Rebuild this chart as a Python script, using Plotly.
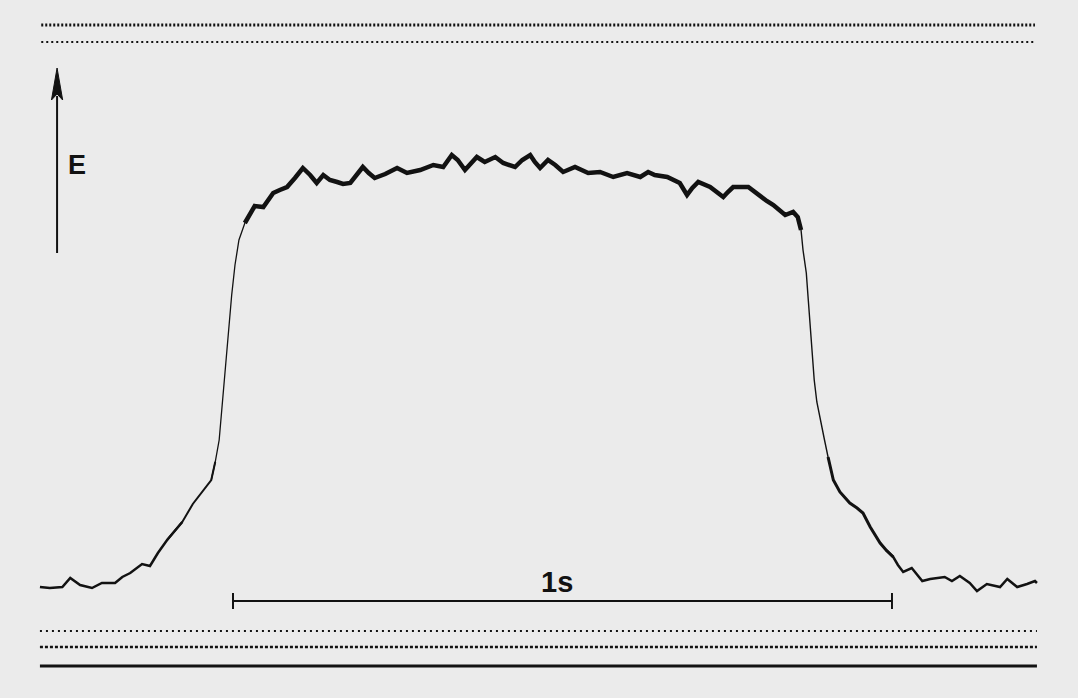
import plotly.graph_objects as go

# Recorded trace: time (ms) and deflection E (arbitrary units, baseline = 0)
t_ms = [-293, -278, -259, -247, -232, -214, -199, -179, -168, -156, -138, -126, -114, -100,
        -77, -61, -42, -33, -27, -21, -17, -14, -9, -5, -2, 3, 9, 18, 26, 33, 46, 53, 61, 71,
        82, 94, 106, 117, 127, 137, 147, 158, 167, 178, 187, 197, 206, 215, 231, 249, 264,
        284, 304, 319, 332, 341, 352, 361, 370, 382, 398, 410, 419, 428, 439, 451, 458, 466,
        478, 489, 501, 519, 539, 557, 577, 598, 618, 630, 640, 659, 678, 689, 697, 706, 724,
        744, 751, 759, 782, 792, 800, 810, 820, 829, 838, 850, 857, 862, 865, 870, 873, 876,
        879, 882, 886, 891, 897, 903, 911, 921, 936, 947, 956, 967, 982, 991, 1002, 1009,
        1017, 1030, 1038, 1046, 1058, 1080, 1091, 1103, 1118, 1129, 1144, 1164, 1175, 1190,
        1205, 1217, 1220]
E_val = [0.25, 0, 0.25, 2.5, 0.75, 0, 1.25, 1.25, 2.75, 3.75, 6, 5.5, 8.75, 12,
         16.5, 21, 25, 27, 31.5, 37, 44.5, 51.25, 59.5, 68.25, 73.25, 80.75, 87, 91.25, 93.75,
         95.5, 95.25, 97, 98.75, 99.5, 100.25, 102.5, 105, 103.25, 101.25, 103.25, 102, 101.5,
         101, 101.25, 103.25, 105.25, 103.75, 102.5, 103.5, 105, 103.75, 104.5, 105.75, 105.25,
         108.25, 107, 104.5, 106, 107.75, 106.5, 107.75, 106.25, 105.75, 105.25, 107, 108.25,
         106.5, 105, 107, 105.75, 104, 105.25, 103.75, 104, 102.75, 103.75, 102.75, 104,
         103.25, 102.75, 101.25, 98.25, 100, 101.5, 100.25, 97.75, 99, 100.25, 100.25, 99,
         97.75, 96.75, 95.75, 94.5, 93.25, 94, 92.75, 89.5, 84.5, 78.75, 72, 64.5, 58.5, 52,
         46.5, 42, 37.5, 32.75, 27, 24, 21.25, 20, 18.75, 15.25, 11.25, 9.5, 7.75, 5.75, 4,
         5, 3.25, 1.75, 2.25, 2.75, 1.75, 3, 1.25, -0.75, 1, 0.25, 2.25, 0.25, 1, 1.75, 1.25]

# Scale bar (1 s)
scale_t = [0, 1000]
scale_label = "1s"
axis_label = "E"

# Timing / reference rows (E level, start, end)
row_start, row_end = -293, 1220
top_rows_E = [140.75, 136.5]
bottom_rows_E = [-10.75, -14.75]
base_line_E = -19.5
scale_bar_E = -3.25

INK = "#121212"
PAPER = "#ebebeb"

fig = go.Figure()

# line-width segments (ms boundaries) to mimic pen thickness
segments = [(-300, -100, 2.5), (-100, -33, 2.0), (-33, 18, 1.3), (18, 857, 4.5),
            (857, 903, 1.4), (903, 1000, 3.0), (1000, 1230, 2.5)]
n = len(t_ms)
for lo, hi, w in segments:
    idx = [i for i in range(n) if lo <= t_ms[i] <= hi]
    if not idx:
        continue
    i0, i1 = idx[0], min(idx[-1] + 1, n - 1)
    if i0 > 0 and t_ms[i0] > lo:
        i0 -= 1
    xs = t_ms[i0:i1 + 1]
    ys = E_val[i0:i1 + 1]
    fig.add_trace(go.Scatter(x=xs, y=ys, mode="lines",
                             line=dict(color=INK, width=w),
                             hoverinfo="skip", showlegend=False))

# timing rows
for e, w, d in [(top_rows_E[0], 3, "2px,2px"), (top_rows_E[1], 2, "2px,3px")]:
    fig.add_trace(go.Scatter(x=[row_start + 2, row_end - 3], y=[e, e], mode="lines",
                             line=dict(color=INK, width=w, dash=d),
                             hoverinfo="skip", showlegend=False))
for e, w, d in [(bottom_rows_E[0], 2, "2px,4px"), (bottom_rows_E[1], 2.5, "3px,2px")]:
    fig.add_trace(go.Scatter(x=[row_start, row_end], y=[e, e], mode="lines",
                             line=dict(color=INK, width=w, dash=d),
                             hoverinfo="skip", showlegend=False))
fig.add_trace(go.Scatter(x=[row_start, row_end], y=[base_line_E, base_line_E], mode="lines",
                         line=dict(color=INK, width=3), hoverinfo="skip", showlegend=False))

# scale bar
fig.add_trace(go.Scatter(x=scale_t, y=[scale_bar_E, scale_bar_E], mode="lines",
                         line=dict(color=INK, width=2), hoverinfo="skip", showlegend=False))
for tx in scale_t:
    fig.add_trace(go.Scatter(x=[tx, tx], y=[scale_bar_E + 2, scale_bar_E - 2], mode="lines",
                             line=dict(color=INK, width=2), hoverinfo="skip", showlegend=False))

# E arrow
arrow_t = -267
fig.add_shape(type="line", x0=arrow_t, x1=arrow_t, y0=83.75, y1=123,
              line=dict(color=INK, width=2))
fig.add_shape(type="path",
              path=f"M {arrow_t},130 L {arrow_t + 8.5},122 L {arrow_t},123.5 L {arrow_t - 8.5},122 Z",
              fillcolor=INK, line=dict(color=INK, width=1))

fig.add_annotation(x=-237, y=105.75, text=f"<b>{axis_label}</b>", showarrow=False,
                   font=dict(family="Liberation Sans, Arial, sans-serif", size=27, color=INK))
fig.add_annotation(x=492, y=1.5, text=f"<b>{scale_label}</b>", showarrow=False,
                   font=dict(family="Liberation Sans, Arial, sans-serif", size=29, color=INK))

fig.update_layout(
    width=1078, height=698,
    margin=dict(l=0, r=0, t=0, b=0),
    paper_bgcolor=PAPER, plot_bgcolor=PAPER,
    xaxis=dict(range=[-353.6, 1282.3], visible=False, fixedrange=True),
    yaxis=dict(range=[-27.5, 147], visible=False, fixedrange=True),
    showlegend=False,
)

fig.write_html(
    "out.html",
    config={"displayModeBar": False},
    post_script="document.body.style.margin='0';document.body.style.overflow='hidden';"
                "document.body.style.background='" + PAPER + "';",
)
